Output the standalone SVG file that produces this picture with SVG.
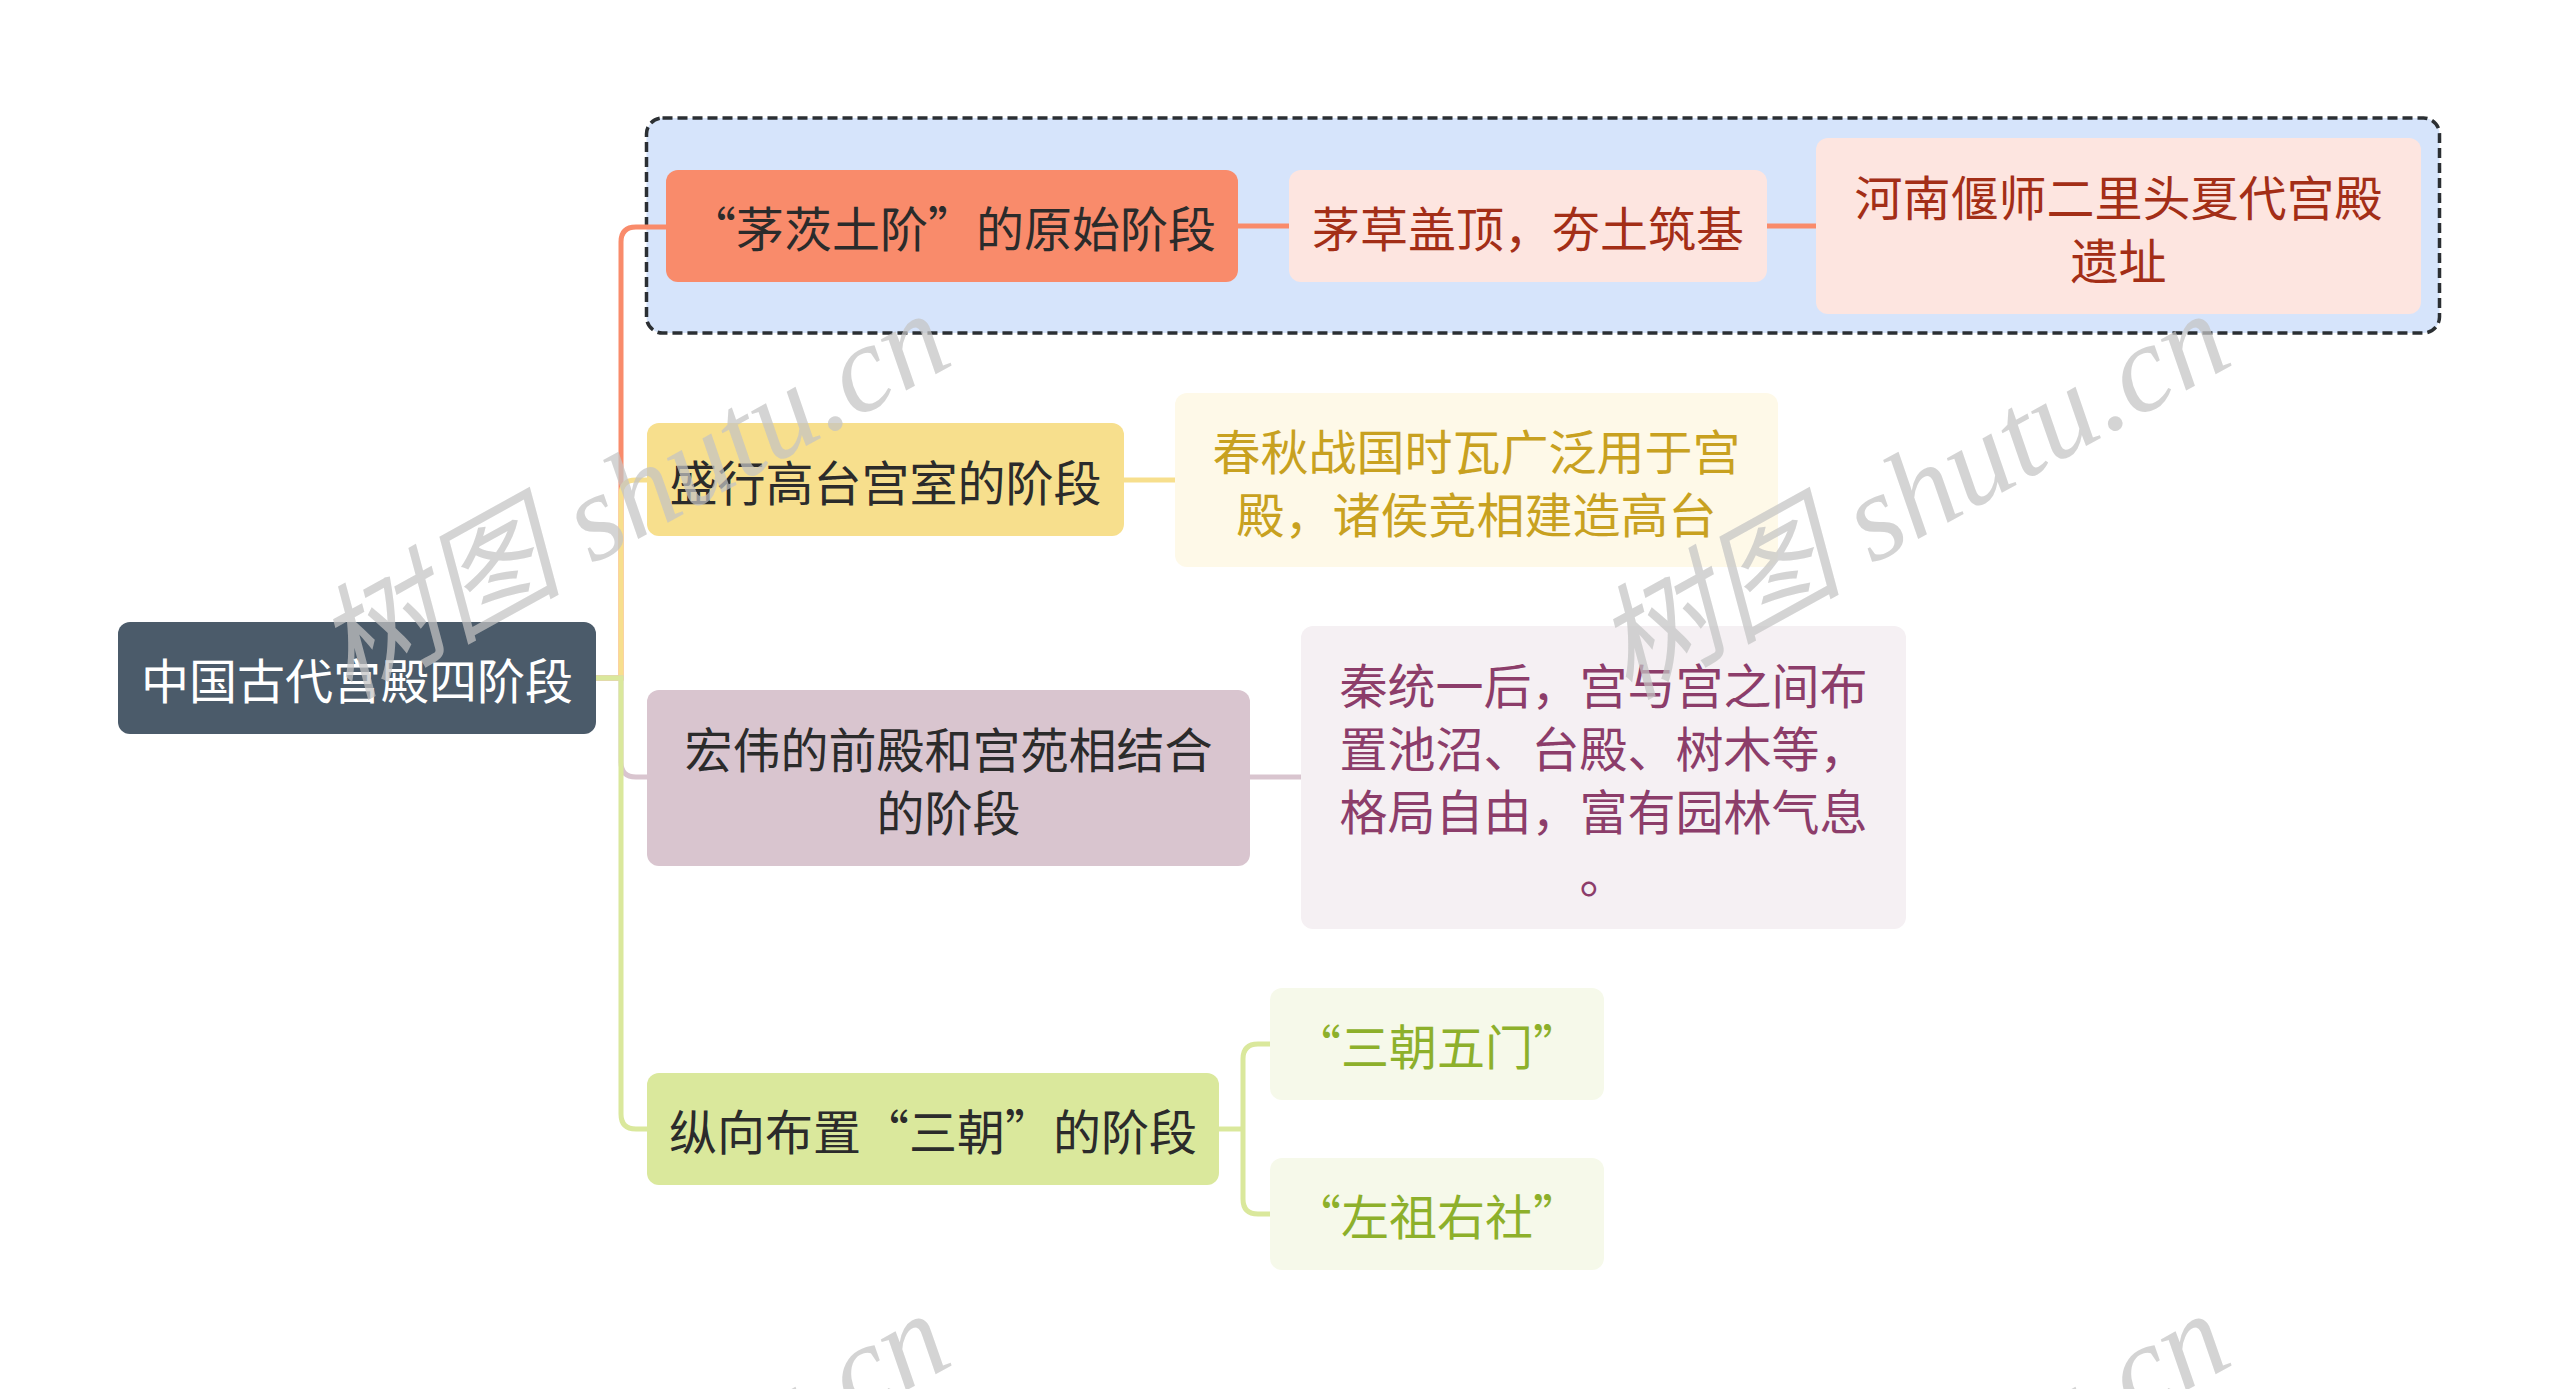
<svg xmlns="http://www.w3.org/2000/svg" width="2560" height="1389" viewBox="0 0 2560 1389">
<style>
text{font-family:"Noto Sans CJK SC","Noto Sans",sans-serif;font-size:48px;text-anchor:middle;dominant-baseline:central}
.dark{fill:#2b2b2b}
.root{fill:#ffffff;font-size:48px}
.red{fill:#a32e17}
.gold{fill:#c8a120}
.plum{fill:#8c3d6a}
.olive{fill:#8db02b}
.c{fill:none;stroke-width:5;stroke-linecap:butt}
.wm{font-family:"Liberation Serif","Noto Sans CJK SC",serif;font-style:italic;font-size:124px;fill:#c4c4c4;fill-opacity:0.72;text-anchor:start;dominant-baseline:auto}
</style>
<rect width="2560" height="1389" fill="#ffffff"/>
<g id="group-box">
<rect x="646.5" y="118" width="1793" height="215" rx="16" fill="#d6e4fb" stroke="#2b2f33" stroke-width="3.5" stroke-dasharray="10 5"/>
</g>
<g id="connectors">
<path class="c" stroke="#f98b6b" d="M596,678 H621 V242 Q621,227 636,227 H666"/>
<path class="c" stroke="#f7df8d" d="M596,678 H621 V495 Q621,480 636,480 H647"/>
<path class="c" stroke="#d9c5cf" d="M596,678 H621 V762 Q621,777 636,777 H647"/>
<path class="c" stroke="#dae89c" d="M596,678 H621 V1114 Q621,1129 636,1129 H647"/>
<path class="c" stroke="#f98b6b" d="M1238,226 H1289"/>
<path class="c" stroke="#f98b6b" d="M1767,226 H1816"/>
<path class="c" stroke="#f7df8d" d="M1124,480 H1175"/>
<path class="c" stroke="#d9c5cf" d="M1250,777 H1301"/>
<path class="c" stroke="#dae89c" d="M1219,1129 H1243"/>
<path class="c" stroke="#dae89c" d="M1243,1129 V1059 Q1243,1044 1258,1044 H1270"/>
<path class="c" stroke="#dae89c" d="M1243,1129 V1199 Q1243,1214 1258,1214 H1270"/>
</g>
<g id="root">
<rect x="118" y="622" width="478" height="112" rx="12" fill="#4b5b6a"/>
<text class="root" x="357" y="678">中国古代宫殿四阶段</text>
</g>
<g id="n1">
<rect x="666" y="170" width="572" height="112" rx="12" fill="#f98b6b"/>
<text class="dark" x="952" y="226">“茅茨土阶”的原始阶段</text>
</g>
<g id="n1a">
<rect x="1289" y="170" width="478" height="112" rx="12" fill="#fde5e0"/>
<text class="red" x="1528" y="226">茅草盖顶，夯土筑基</text>
</g>
<g id="n1b">
<rect x="1816" y="138" width="605" height="176" rx="12" fill="#fde5e0"/>
<text class="red" x="2118.5" y="194.5">河南偃师二里头夏代宫殿</text>
<text class="red" x="2118.5" y="257.5">遗址</text>
</g>
<g id="n2">
<rect x="647" y="423" width="477" height="113" rx="12" fill="#f7df8d"/>
<text class="dark" x="885.5" y="480">盛行高台宫室的阶段</text>
</g>
<g id="n2a">
<rect x="1175" y="393" width="603" height="174" rx="12" fill="#fef9e8"/>
<text class="gold" x="1476.5" y="448.5">春秋战国时瓦广泛用于宫</text>
<text class="gold" x="1476.5" y="511.5">殿，诸侯竞相建造高台</text>
</g>
<g id="n3">
<rect x="647" y="690" width="603" height="176" rx="12" fill="#d9c5cf"/>
<text class="dark" x="948.5" y="746.5">宏伟的前殿和宫苑相结合</text>
<text class="dark" x="948.5" y="809.5">的阶段</text>
</g>
<g id="n3a">
<rect x="1301" y="626" width="605" height="303" rx="12" fill="#f5f0f3"/>
<text class="plum" x="1603.5" y="683">秦统一后，宫与宫之间布</text>
<text class="plum" x="1603.5" y="746">置池沼、台殿、树木等，</text>
<text class="plum" x="1603.5" y="809">格局自由，富有园林气息</text>
<text class="plum" x="1603.5" y="872">。</text>
</g>
<g id="n4">
<rect x="647" y="1073" width="572" height="112" rx="12" fill="#dae89c"/>
<text class="dark" x="933" y="1129">纵向布置“三朝”的阶段</text>
</g>
<g id="n4a">
<rect x="1270" y="988" width="334" height="112" rx="12" fill="#f6f9ea"/>
<text class="olive" x="1437" y="1044">“三朝五门”</text>
</g>
<g id="n4b">
<rect x="1270" y="1158" width="334" height="112" rx="12" fill="#f6f9ea"/>
<text class="olive" x="1437" y="1214">“左祖右社”</text>
</g>
<g id="watermark">
<text class="wm" transform="translate(348,700) rotate(-29)">树图 shutu.cn</text>
<text class="wm" transform="translate(1628,700) rotate(-29)">树图 shutu.cn</text>
<text class="wm" transform="translate(348,1700) rotate(-29)">树图 shutu.cn</text>
<text class="wm" transform="translate(1628,1700) rotate(-29)">树图 shutu.cn</text>
</g>
</svg>
